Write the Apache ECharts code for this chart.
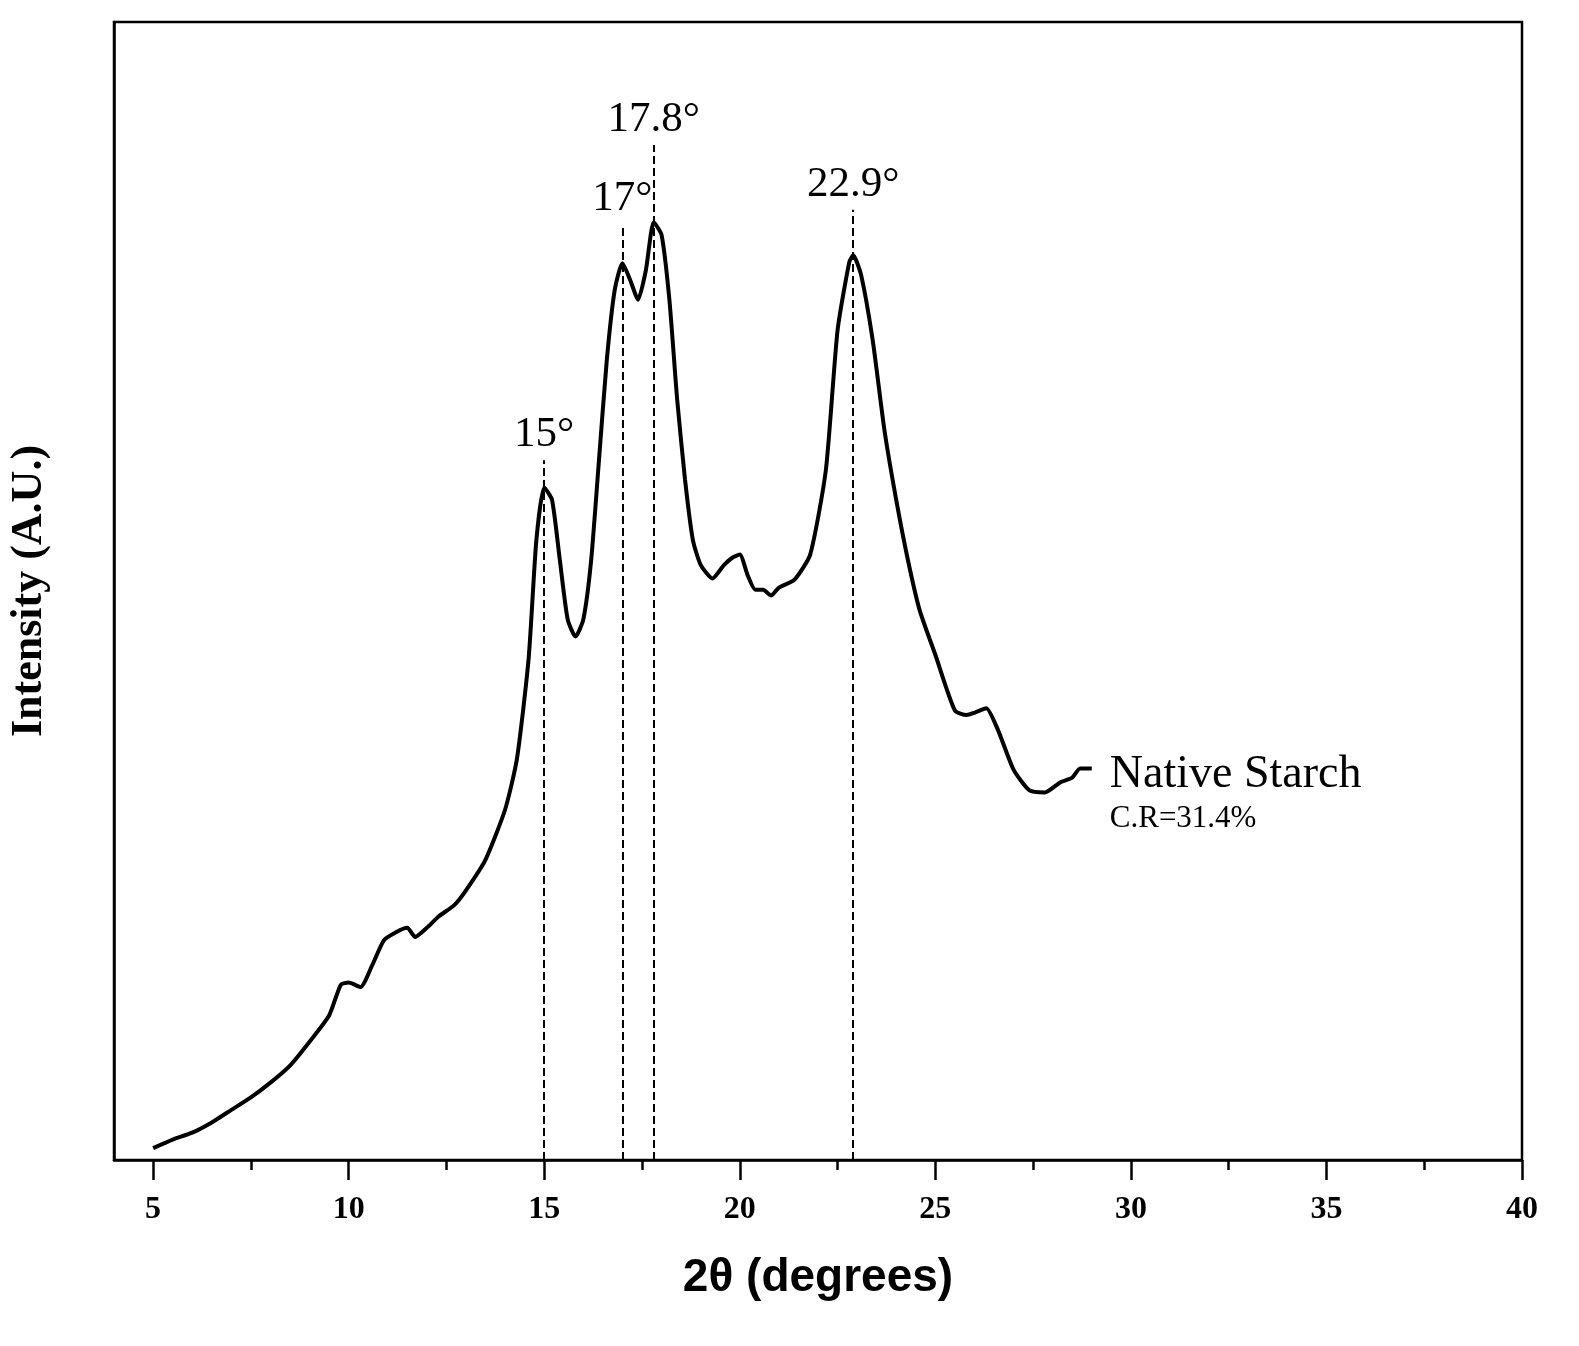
<!DOCTYPE html>
<html><head><meta charset="utf-8">
<script src="https://cdn.jsdelivr.net/npm/echarts@6/dist/echarts.min.js"></script>
<style>html,body{margin:0;padding:0;background:#fff}#c{width:1579px;height:1346px}</style>
</head><body><div id="c"></div>
<script>
const twoTheta = [5,5.5,6,6.5,7,7.5,8,8.5,9,9.5,9.8,10,10.3,10.6,10.9,11.2,11.5,11.7,12,12.3,12.7,13,13.5,14,14.3,14.6,14.8,15,15.2,15.4,15.6,15.8,16,16.2,16.4,16.6,16.8,17,17.2,17.4,17.6,17.8,18,18.2,18.4,18.6,18.8,19,19.3,19.6,19.8,20,20.2,20.4,20.6,20.8,21,21.4,21.8,22.2,22.5,22.8,22.9,23.1,23.4,23.7,24,24.3,24.6,25,25.5,25.8,26,26.3,26.6,27,27.4,27.8,28.2,28.5,28.7,29];
const intensity = [1.05,1.8,2.4,3.3,4.4,5.5,6.8,8.3,10.4,12.7,15.4,15.6,15.2,17.1,19.3,20.0,20.4,19.6,20.4,21.4,22.4,23.7,26.4,30.8,35.2,44,54.5,59.1,58,52.7,47.5,46,47.5,52.7,61.5,70.3,76.4,78.8,77.3,75.6,78.2,82.4,81.3,75.6,66.8,59.8,54.5,52.3,51.1,52.3,52.9,53.2,51.4,50.1,50.1,49.6,50.3,51,53.2,60.6,72.9,78.9,79.5,77.8,72,64.1,58,52.7,48.3,44.4,39.5,39.1,39.3,39.7,37.8,34.3,32.5,32.3,33.2,33.6,34.4,34.4];
const peakPositions = [15,17,17.8,22.9];
const peakLabels = ['15°','17°','17.8°','22.9°'];
const peakLineTops = [61.5,82.2,89.2,83.5];
const majorTicks = [5,10,15,20,25,30,35,40];
const minorTicks = [7.5,12.5,17.5,22.5,27.5,32.5,37.5];
const seriesName = 'Native Starch';
const crText = 'C.R=31.4%';

const chart = echarts.init(document.getElementById('c'));
const serif = 'Liberation Serif, Times New Roman, serif';
chart.setOption({
  animation:false,
  textStyle:{fontFamily:serif},
  grid:{left:110,right:57,top:22,bottom:186,show:true,borderColor:'#000',borderWidth:2.5,backgroundColor:'transparent'},
  xAxis:[{
    type:'value',min:4,max:40,interval:1,
    name:'2θ (degrees)',nameLocation:'middle',nameGap:95,
    nameTextStyle:{fontFamily:'Liberation Sans, Arial',fontWeight:'bold',fontSize:46,color:'#000'},
    axisLine:{onZero:false,lineStyle:{color:'#000',width:2.5}},
    axisTick:{show:false},
    axisLabel:{margin:34,fontFamily:serif,fontWeight:'bold',fontSize:32,color:'#000',
      formatter:v=>majorTicks.indexOf(v)>=0?String(v):''},
    splitLine:{show:false}
  },{
    type:'value',min:4,max:40,position:'bottom',
    axisLine:{show:false},
    axisTick:{show:true,length:20,lineStyle:{color:'#000',width:2.5},customValues:majorTicks},
    axisLabel:{show:false},splitLine:{show:false}
  },{
    type:'value',min:4,max:40,position:'bottom',
    axisLine:{show:false},
    axisTick:{show:true,length:10,lineStyle:{color:'#000',width:2.5},customValues:minorTicks},
    axisLabel:{show:false},splitLine:{show:false}
  }],
  yAxis:{
    type:'value',min:0,max:100,
    name:'Intensity (A.U.)',nameLocation:'middle',nameGap:62,
    nameTextStyle:{fontFamily:serif,fontWeight:'bold',fontSize:44,color:'#000'},
    axisLine:{show:true,lineStyle:{color:'#000',width:2.5}},
    axisTick:{show:false},axisLabel:{show:false},splitLine:{show:false}
  },
  series:[{
    type:'line',name:seriesName,smooth:0.2,showSymbol:false,
    data:twoTheta.map((x,i)=>[x,intensity[i]]),
    lineStyle:{color:'#000',width:4},
    endLabel:{show:true,formatter:'{a|'+seriesName+'}\n{b|'+crText+'}',offset:[10,24],
      rich:{a:{fontFamily:serif,fontSize:46,color:'#000',lineHeight:52},b:{fontFamily:serif,fontSize:31,color:'#000',lineHeight:36}}},
    markLine:{silent:true,symbol:'none',
      lineStyle:{type:'dashed',color:'#000',width:2},
      label:{position:'end',distance:4,fontFamily:serif,fontSize:43,color:'#000'},
      data:peakPositions.map((p,i)=>[{coord:[p,0],name:peakLabels[i],label:{formatter:peakLabels[i]}},{coord:[p,peakLineTops[i]]}])
    }
  }]
});
</script></body></html>
